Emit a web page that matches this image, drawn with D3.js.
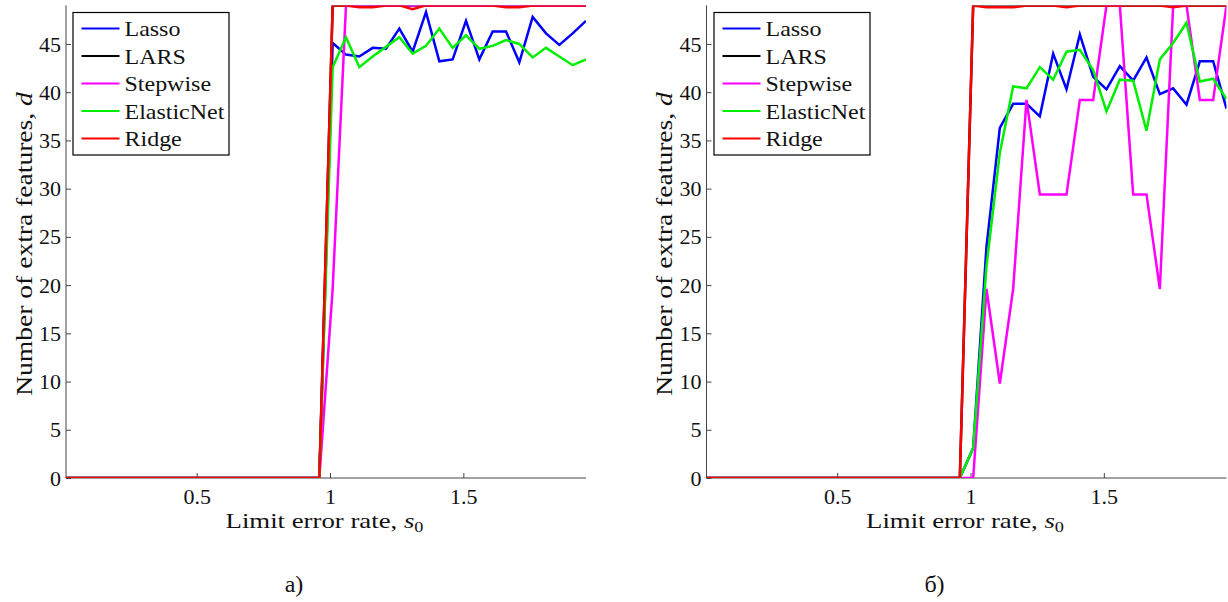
<!DOCTYPE html>
<html><head><meta charset="utf-8">
<script src="https://cdn.jsdelivr.net/npm/d3@7"></script>
<style>
html,body{margin:0;padding:0;background:#fff;}
svg{display:block;}
text{font-family:"Liberation Serif","DejaVu Serif",serif;fill:#111;}
</style></head>
<body>
<svg id="chart" width="1228" height="602"></svg>
<script>
// ---------- data ----------
const s0 = [0.01,0.06,0.11,0.16,0.21,0.26,0.31,0.36,0.41,0.46,0.51,0.56,0.61,0.66,0.71,0.76,0.81,0.86,0.91,0.96,
            1.01,1.06,1.11,1.16,1.21,1.26,1.31,1.36,1.41,1.46,1.51,1.56,1.61,1.66,1.71,1.76,1.81,1.86,1.91,1.96];
const seriesNames = ["Lasso","LARS","Stepwise","ElasticNet","Ridge"];
const seriesColors = ["#0000ff","#000000","#ff00ff","#00ee00","#ff0000"];
const xTicks = [0.5,1,1.5];
const xTickLabels = ["0.5","1","1.5"];
const yTicks = [0,5,10,15,20,25,30,35,40,45];
const panelCaptions = ["а)","б)"];

const zeros20 = [0,0,0,0,0,0,0,0,0,0,0,0,0,0,0,0,0,0,0,0];
// panel a)
const lassoA = zeros20.concat([45.1,43.9,43.7,44.6,44.5,46.6,44.2,48.3,43.2,43.4,47.4,43.4,46.3,46.3,43.1,47.8,46.1,44.9,46.1,47.4]);
const larsA = zeros20.concat([49,49,49,49,49,49,49,49,49,49,49,49,49,49,49,49,49,49,49,49]);
const stepwiseA = zeros20.concat([19.6,49,49,49,49,49,49,49,49,49,49,49,49,49,49,49,49,49,49,49]);
const elasticA = zeros20.concat([42.6,45.7,42.6,43.7,44.7,45.7,44.0,44.8,46.6,44.6,45.9,44.5,44.8,45.4,45.0,43.6,44.6,43.7,42.8,43.4]);
const ridgeA = zeros20.concat([49,49,48.8,48.8,49,49,48.6,49,49,49,49,49,49,48.8,48.8,49,49,49,49,49]);
// panel б)
const lassoB = zeros20.concat([3.1,24,36.3,38.8,38.8,37.5,44.0,40.3,46.0,41.6,40.3,42.7,41.2,43.6,39.8,40.4,38.7,43.2,43.2,38.3]);
const larsB = zeros20.concat([49,49,49,49,49,49,49,49,49,49,49,49,49,49,49,49,49,49,49,49]);
const stepwiseB = zeros20.concat([0,19.6,9.8,19.6,39.2,29.4,29.4,29.4,39.2,39.2,49,49,29.4,29.4,19.6,49,49,39.2,39.2,49]);
const elasticB = zeros20.concat([3.1,22,33.7,40.6,40.4,42.6,41.3,44.2,44.4,42.3,38.0,41.3,41.2,36.0,43.4,45.1,47.2,41.1,41.4,39.3]);
const ridgeB = zeros20.concat([49,48.8,48.8,48.8,49,49,49,48.8,49,49,49,49,49,49,49,48.8,49,49,49,49]);

const panelsData = [
  [lassoA, larsA, stepwiseA, elasticA, ridgeA],
  [lassoB, larsB, stepwiseB, elasticB, ridgeB]
];

// ---------- layout ----------
const svg = d3.select("#chart");
const yTop = 5.4, yBot = 478;
const panels = [
  {x0:66, x1:586, yLabX:31.7, legX:73, capX:294},
  {x0:706.5, x1:1226.5, yLabX:672.2, legX:714, capX:934.5}
];
const y = d3.scaleLinear().domain([0,49]).range([yBot,yTop]);
const axisColor = "#444";
const fsTick = 22, fsLeg = 22, fsX = 22, fsY = 24;

function fitWidth(gSel, textSel, base, target){
  const w = textSel.node().getBBox().width;
  gSel.attr("transform", base + ` scale(${target/w},1)`);
}

panels.forEach((p, pi) => {
  const x = d3.scaleLinear().domain([0.01,1.96]).range([p.x0,p.x1]);
  const g = svg.append("g");
  const clipId = "clip"+pi;
  svg.append("clipPath").attr("id",clipId).append("rect")
     .attr("x",p.x0).attr("y",yTop).attr("width",p.x1-p.x0).attr("height",yBot-yTop);

  // axes
  const xAxis = d3.axisBottom(x).tickValues(xTicks).tickFormat((d,i)=>xTickLabels[i]).tickSizeInner(-5).tickSizeOuter(0).tickPadding(10.5);
  const gx = g.append("g").attr("transform",`translate(0,${yBot})`).call(xAxis);
  gx.attr("font-family",null).attr("font-size",null);
  gx.select(".domain").attr("stroke",axisColor).attr("d",`M${p.x0},0H${p.x1}`);
  gx.selectAll(".tick line").attr("stroke",axisColor);
  gx.selectAll(".tick text").attr("font-size",fsTick).attr("fill","#111").attr("dy","0.71em");

  const yAxis = d3.axisLeft(y).tickValues(yTicks).tickSizeInner(-5).tickSizeOuter(0).tickPadding(5);
  const gy = g.append("g").attr("transform",`translate(${p.x0},0)`).call(yAxis);
  gy.attr("font-family",null).attr("font-size",null);
  gy.select(".domain").attr("stroke",axisColor).attr("d",`M0,${yTop}V${yBot}`);
  gy.selectAll(".tick line").attr("stroke",axisColor);
  gy.selectAll(".tick text").attr("font-size",fsTick).attr("fill","#111");

  // lines
  const line = d3.line().x((d,i)=>x(s0[i])).y(d=>y(d));
  const lg = g.append("g").attr("clip-path",`url(#${clipId})`);
  panelsData[pi].forEach((vals, si) => {
    lg.append("path").datum(vals).attr("d",line)
      .attr("fill","none").attr("stroke",seriesColors[si]).attr("stroke-width",2.5)
      .attr("stroke-linejoin","miter").attr("stroke-miterlimit",4);
  });

  // y label
  const ylBase = `translate(${p.yLabX},244) rotate(-90)`;
  const ylG = g.append("g").attr("transform",ylBase);
  const yl = ylG.append("text").attr("text-anchor","middle").attr("font-size",fsY);
  yl.append("tspan").text("Number of extra features, ");
  yl.append("tspan").attr("font-style","italic").text("d");
  fitWidth(ylG, yl, ylBase, 305);

  // x label
  const xlBase = `translate(${(p.x0+p.x1)/2 - 1.5},528)`;
  const xlG = g.append("g").attr("transform",xlBase);
  const xl = xlG.append("text").attr("text-anchor","middle").attr("font-size",fsX);
  xl.append("tspan").text("Limit error rate, ");
  xl.append("tspan").attr("font-style","italic").text("s");
  xl.append("tspan").attr("font-size",15).attr("dy",4).text("0");
  fitWidth(xlG, xl, xlBase, 198);

  // caption
  g.append("text").attr("x",p.capX).attr("y",592).attr("text-anchor","middle").attr("font-size",24).text(panelCaptions[pi]);

  // legend
  const leg = g.append("g").attr("transform",`translate(${p.legX},12.5)`);
  leg.append("rect").attr("width",156).attr("height",142.5).attr("fill","#fff").attr("stroke","#000").attr("stroke-width",1.2);
  seriesNames.forEach((name, si) => {
    const yy = 16 + si*27.5;
    leg.append("line").attr("x1",8.5).attr("x2",46.5).attr("y1",yy).attr("y2",yy)
      .attr("stroke",seriesColors[si]).attr("stroke-width",2);
    leg.append("g").attr("transform",`translate(51.5,${yy+7.5}) scale(1.09,1)`)
      .append("text").attr("font-size",fsLeg).text(name);
  });
});
</script>
</body></html>
